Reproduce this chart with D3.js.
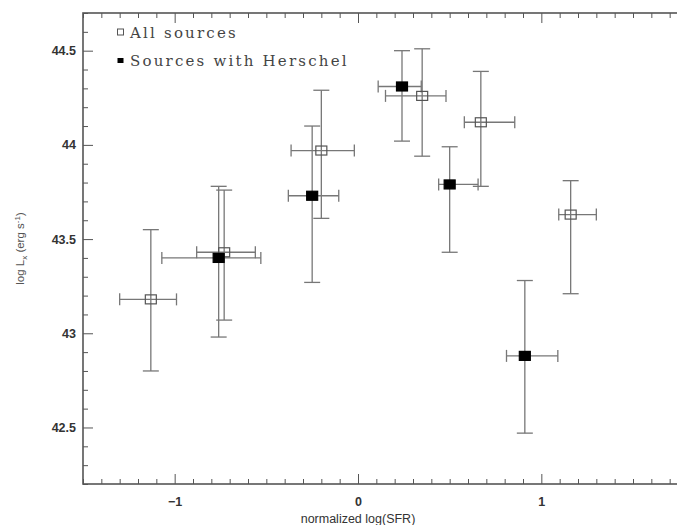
<!DOCTYPE html>
<html>
<head>
<meta charset="utf-8">
<script src="https://cdn.jsdelivr.net/npm/d3@7"></script>
<style>
  body { margin: 0; background: #fff; }
  svg { display: block; }
</style>
</head>
<body>
<div id="chart"></div>
<script>
// "All sources" (open squares)
const allX = [-1.13, -0.73, -0.20, 0.35, 0.67, 1.16];
const allY = [43.18, 43.43, 43.97, 44.26, 44.12, 43.63];
const allXLo = [-1.30, -0.88, -0.365, 0.15, 0.58, 1.095];
const allXHi = [-0.99, -0.56, -0.02, 0.48, 0.855, 1.30];
const allYLo = [42.80, 43.07, 43.61, 43.94, 43.78, 43.21];
const allYHi = [43.55, 43.76, 44.29, 44.51, 44.39, 43.81];

// "Sources with Herschel" (filled squares)
const herX = [-0.76, -0.25, 0.24, 0.50, 0.91];
const herY = [43.40, 43.73, 44.31, 43.79, 42.88];
const herXLo = [-1.07, -0.38, 0.11, 0.44, 0.81];
const herXHi = [-0.53, -0.105, 0.345, 0.655, 1.09];
const herYLo = [42.98, 43.27, 44.02, 43.43, 42.47];
const herYHi = [43.78, 44.10, 44.50, 43.99, 43.28];

const xTicks = [-1, 0, 1];
const yTicks = [42.5, 43, 43.5, 44, 44.5];
const yTickLabels = ["42.5", "43", "43.5", "44", "44.5"];

function drawChart() {
  const W = 677, H = 525;
  const margin = { top: 13, right: -11, bottom: 41, left: 83 };
  const width = W - margin.left - margin.right,
    height = H - margin.top - margin.bottom;

  const svg = d3
    .select("#chart")
    .append("svg")
    .attr("width", W)
    .attr("height", H);

  const g = svg.append("g").attr("transform", `translate(${margin.left}, ${margin.top})`);

  const x = d3.scaleLinear().domain([-1.5, 1.8]).range([0, width]);
  const y = d3.scaleLinear().domain([42.2, 44.7]).range([height, 0]);

  const minorX = d3.range(-15, 19).map((d) => d / 10).filter((d) => Math.abs(d - Math.round(d)) > 1e-6);
  const minorY = d3.range(422, 448).map((d) => d / 10).filter((d) => Math.abs(d * 2 - Math.round(d * 2)) > 1e-6);

  const tickColor = "#555";

  // bottom axis (ticks pointing inward)
  const bottom = g.append("g").attr("transform", `translate(0, ${height})`);
  bottom.append("g").call(d3.axisBottom(x).tickValues(minorX).tickSize(-5).tickFormat(""));
  bottom.append("g").call(d3.axisBottom(x).tickValues(xTicks).tickSize(-10).tickPadding(13).tickFormat(d3.format("d")));

  // top axis
  const top = g.append("g");
  top.append("g").call(d3.axisTop(x).tickValues(minorX).tickSize(-5).tickFormat(""));
  top.append("g").call(d3.axisTop(x).tickValues(xTicks).tickSize(-10).tickFormat(""));

  // left axis
  const left = g.append("g");
  left.append("g").call(d3.axisLeft(y).tickValues(minorY).tickSize(-5).tickFormat(""));
  left.append("g").call(
    d3.axisLeft(y).tickValues(yTicks).tickSize(-10).tickPadding(7)
      .tickFormat((d, i) => yTickLabels[i])
  );

  // right axis
  const right = g.append("g").attr("transform", `translate(${width}, 0)`);
  right.append("g").call(d3.axisRight(y).tickValues(minorY).tickSize(-5).tickFormat(""));
  right.append("g").call(d3.axisRight(y).tickValues(yTicks).tickSize(-10).tickFormat(""));

  g.selectAll(".domain").remove();
  g.selectAll(".tick line").attr("stroke", tickColor).attr("stroke-width", 1);
  g.selectAll(".tick text")
    .style("font-family", "'Liberation Sans', Arial, sans-serif")
    .style("font-size", "12.5px")
    .style("font-weight", "bold")
    .attr("fill", "#333");

  // frame
  g.append("rect")
    .attr("x", 0)
    .attr("y", 0)
    .attr("width", width)
    .attr("height", height)
    .attr("fill", "none")
    .attr("stroke", "#555")
    .attr("stroke-width", 1.6);

  // axis titles
  svg.append("text")
    .attr("x", margin.left + x(0))
    .attr("y", 523)
    .attr("text-anchor", "middle")
    .style("font-family", "'Liberation Sans', Arial, sans-serif")
    .style("font-size", "12.5px")
    .attr("fill", "#333")
    .text("normalized log(SFR)");

  const yt = svg.append("text")
    .attr("transform", `translate(24, ${margin.top + height / 2}) rotate(-90)`)
    .attr("text-anchor", "middle")
    .style("font-family", "'Liberation Sans', Arial, sans-serif")
    .style("font-size", "11.5px")
    .attr("fill", "#555");
  yt.append("tspan").text("log L");
  yt.append("tspan").attr("dy", 3).style("font-size", "8px").text("x");
  yt.append("tspan").attr("dy", -3).text(" (erg s");
  yt.append("tspan").attr("dy", -4).style("font-size", "8px").text("-1");
  yt.append("tspan").attr("dy", 4).text(")");

  // build point tables
  const allData = allX.map((d, i) => ({
    x: d, y: allY[i], xlo: allXLo[i], xhi: allXHi[i], ylo: allYLo[i], yhi: allYHi[i], filled: false
  }));
  const herData = herX.map((d, i) => ({
    x: d, y: herY[i], xlo: herXLo[i], xhi: herXHi[i], ylo: herYLo[i], yhi: herYHi[i], filled: true
  }));
  const points = allData.concat(herData);

  const barColor = "#777";
  const capV = 8, capH = 6;
  const bars = g.append("g").attr("stroke", barColor).attr("stroke-width", 1.3).attr("fill", "none");

  points.forEach(function (d) {
    const px = x(d.x), py = y(d.y);
    // vertical bar
    bars.append("line").attr("x1", px).attr("x2", px).attr("y1", y(d.ylo)).attr("y2", y(d.yhi));
    bars.append("line").attr("x1", px - capV).attr("x2", px + capV).attr("y1", y(d.ylo)).attr("y2", y(d.ylo));
    bars.append("line").attr("x1", px - capV).attr("x2", px + capV).attr("y1", y(d.yhi)).attr("y2", y(d.yhi));
    // horizontal bar
    bars.append("line").attr("x1", x(d.xlo)).attr("x2", x(d.xhi)).attr("y1", py).attr("y2", py);
    bars.append("line").attr("x1", x(d.xlo)).attr("x2", x(d.xlo)).attr("y1", py - capH).attr("y2", py + capH);
    bars.append("line").attr("x1", x(d.xhi)).attr("x2", x(d.xhi)).attr("y1", py - capH).attr("y2", py + capH);
  });

  // markers
  const mw = 11, mh = 9;
  g.append("g")
    .selectAll("rect")
    .data(points)
    .join("rect")
    .attr("x", (d) => x(d.x) - mw / 2)
    .attr("y", (d) => y(d.y) - mh / 2)
    .attr("width", mw)
    .attr("height", mh)
    .attr("fill", (d) => (d.filled ? "#000" : "none"))
    .attr("stroke", (d) => (d.filled ? "#000" : "#555"))
    .attr("stroke-width", 1.2);

  // legend
  const legend = svg.append("g")
    .style("font-family", "'DejaVu Serif', serif")
    .style("font-size", "15px")
    .attr("fill", "#444");
  legend.append("rect")
    .attr("x", 117.5).attr("y", 29).attr("width", 6).attr("height", 6)
    .attr("fill", "none").attr("stroke", "#555").attr("stroke-width", 1);
  legend.append("text").attr("x", 130).attr("y", 38).style("letter-spacing", "2.2px").text("All sources");
  legend.append("rect")
    .attr("x", 117.5).attr("y", 58).attr("width", 6).attr("height", 5)
    .attr("fill", "#000");
  legend.append("text").attr("x", 130).attr("y", 66).style("letter-spacing", "2.2px").text("Sources with Herschel");
}

drawChart();
</script>
</body>
</html>
